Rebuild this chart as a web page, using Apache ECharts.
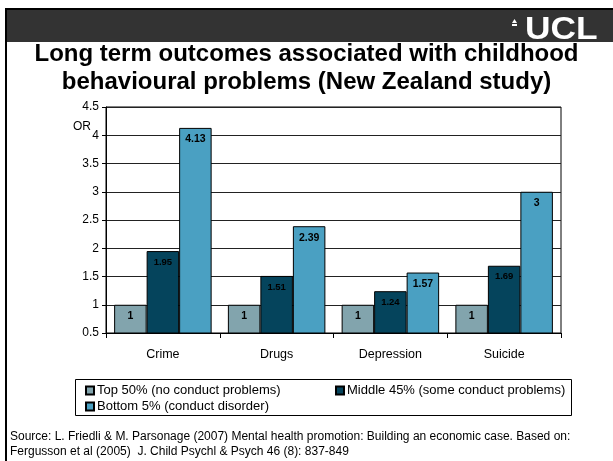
<!DOCTYPE html>
<html><head><meta charset="utf-8">
<script src="https://cdn.jsdelivr.net/npm/echarts@6/dist/echarts.min.js"></script>
<style>html,body{margin:0;padding:0;background:#fff}#c{width:613px;height:461px}</style>
</head><body><div id="c"></div>
<script>
const categories = ['Crime', 'Drugs', 'Depression', 'Suicide'];
const top50 = [1, 1, 1, 1];
const middle45 = [1.95, 1.51, 1.24, 1.69];
const bottom5 = [4.13, 2.39, 1.57, 3];
const seriesNames = ['Top 50% (no conduct problems)', 'Middle 45% (some conduct problems)', 'Bottom 5% (conduct disorder)'];
const titleText = 'Long term outcomes associated with childhood\nbehavioural problems (New Zealand study)';
const sourceText = 'Source: L. Friedli & M. Parsonage (2007) Mental health promotion: Building an economic case. Based on:\nFergusson et al (2005)  J. Child Psychl & Psych 46 (8): 837-849';
const yName = 'OR';

const FONT = 'Liberation Sans, Arial, sans-serif';
const colors = ['#82A4AD', '#05445C', '#4AA0C2'];
const values = [top50, middle45, bottom5];

const chart = echarts.init(document.getElementById('c'), null, {renderer: 'canvas'});

const series = values.map((v, i) => ({
  name: seriesNames[i],
  type: 'bar',
  data: v,
  barWidth: 32.5,
  barGap: '0%',
  itemStyle: {color: colors[i], borderColor: '#000', borderWidth: 1},
  label: {
    show: true,
    position: 'insideTop',
    distance: 6,
    fontFamily: FONT,
    fontSize: i === 1 ? 9.5 : 10.5,
    fontWeight: 'bold',
    color: '#000'
  },
  emphasis: {disabled: true},
  animation: false
}));

const legendText = {fontFamily: FONT, fontSize: 13, color: '#000', lineHeight: 15, padding: [0, 0, 0, -2]};

chart.setOption({
  animation: false,
  backgroundColor: '#fff',
  title: {
    text: titleText,
    left: 'center',
    top: 35,
    textStyle: {fontFamily: FONT, fontSize: 24, fontWeight: 'bold', color: '#000', lineHeight: 28}
  },
  legend: [
    {
      data: [seriesNames[0], seriesNames[2]],
      orient: 'vertical',
      left: 85, top: 383,
      padding: 0,
      itemGap: 1,
      itemWidth: 8, itemHeight: 8,
      icon: 'rect',
      textStyle: legendText,
      selectedMode: false
    },
    {
      data: [seriesNames[1]],
      orient: 'vertical',
      left: 335, top: 383,
      padding: 0,
      itemGap: 1,
      itemWidth: 8, itemHeight: 8,
      icon: 'rect',
      textStyle: legendText,
      selectedMode: false
    }
  ],
  grid: {
    left: 106, right: 52, top: 107, bottom: 128,
    show: true, backgroundColor: '#fff', borderColor: '#000', borderWidth: 1
  },
  xAxis: {
    type: 'category',
    data: categories,
    axisLine: {lineStyle: {color: '#000', width: 1}},
    axisTick: {show: true, length: 5, lineStyle: {color: '#000'}},
    axisLabel: {fontFamily: FONT, fontSize: 12.5, color: '#000', margin: 15}
  },
  yAxis: {
    type: 'value',
    min: 0.5, max: 4.5, interval: 0.5,
    axisLine: {show: true, lineStyle: {color: '#000', width: 1}},
    axisTick: {show: true, length: 4, lineStyle: {color: '#000'}},
    axisLabel: {fontFamily: FONT, fontSize: 12, color: '#000', margin: 7},
    splitLine: {show: true, lineStyle: {color: '#222', width: 1}}
  },
  series: series,
  graphic: [
    {type: 'rect', z: -10, shape: {x: 6, y: 9, width: 620, height: 460}, style: {fill: 'none', stroke: '#000', lineWidth: 2}},
    {type: 'rect', z: -9, shape: {x: 7, y: 10, width: 610, height: 32}, style: {fill: '#333333'}},
    {type: 'text', z: 5, x: 525, y: 15, scaleX: 1.14, style: {text: 'UCL', fill: '#fff', font: 'bold 31px ' + FONT}},
    {type: 'polygon', z: 5, shape: {points: [[512, 23], [514.5, 19], [517, 23]]}, style: {fill: '#fff'}},
    {type: 'rect', z: 5, shape: {x: 512, y: 24, width: 5, height: 2}, style: {fill: '#fff'}},
    {type: 'text', z: 5, left: 73, top: 121, style: {text: yName, fill: '#000', font: '12px ' + FONT}},
    {type: 'rect', z: -5, shape: {x: 75.5, y: 379.5, width: 496, height: 36}, style: {fill: '#fff', stroke: '#000', lineWidth: 1}},
    {type: 'text', z: 5, left: 10, top: 429, style: {text: sourceText, fill: '#000', font: '12px ' + FONT, lineHeight: 15}}
  ]
});
</script>
</body></html>
